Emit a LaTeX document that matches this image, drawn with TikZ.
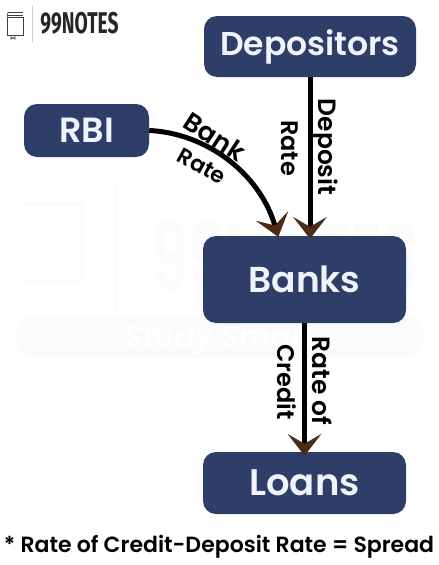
\documentclass[tikz,border=0pt]{standalone}
\usepackage{fontspec}
\setmainfont{Poppins}[BoldFont={Poppins SemiBold}]
\newfontfamily\logofont{Fira Sans}
\usetikzlibrary{arrows.meta}
\definecolor{boxblue}{HTML}{2F3E69}
\definecolor{tipbrown}{HTML}{4A2C17}
\definecolor{boxtext}{HTML}{F0F3FA}
\definecolor{faint}{HTML}{FBFBFB}
\tikzset{
  x=1pt,y=-1pt,
  fbox/.style={fill=boxblue,rounded corners=13pt,text=boxtext,inner sep=0pt,anchor=center},
  conn/.style={line width=5pt,black,-{Stealth[length=22pt,width=34pt,inset=10pt,color=tipbrown,line width=0pt]}},
  lab/.style={inner sep=0pt,text=black},
  wm/.style={draw=faint,line width=1.5pt}
}
\newcommand{\fsz}[1]{\bfseries\fontsize{#1}{#1}\selectfont}
\newcommand{\boxlabel}[1]{\raisebox{-2pt}{#1}}
\begin{document}
\begin{tikzpicture}
\useasboundingbox (0,0) rectangle (439,565);
% watermark
\draw[wm] (24,204) rectangle (82,282);
\draw[wm] (32,203) -- (82,203);
\draw[wm] (116,185) -- (116,312);
\node[font=\fsz{96},text=faint,inner sep=0pt,xscale=.62] (wmtext) at (285,256) {99NOTES};
\fill[faint,rounded corners=18pt] (16,316) rectangle (423,358);
\node[font=\itshape\fsz{30},text=white,inner sep=0pt] (wmsub) at (220,340) {Study Smart};
% logo
\draw[black!75,line width=.8pt] (7,17) rectangle (23,35);
\draw[black!75,line width=.8pt] (8,12.5) -- (23,12.5) (8,15) -- (23,15);
\draw[black!75,line width=.8pt] (8,12.5) -- (7,17);
\draw[black!75,line width=.8pt] (11,35) -- (11,39) -- (13,37.5) -- (15,39) -- (15,35);
\draw[black!20,line width=1pt] (32,6) -- (32,42);
\node[font=\logofont\bfseries\fontsize{30}{30}\selectfont,text=black!85,inner sep=0pt,xscale=.64] (logo) at (79.5,23) {99NOTES};
% boxes
\node[fbox,minimum width=212pt,minimum height=61pt,font=\fsz{33}] (dep) at (310,46.5) {\raisebox{-3pt}{Depositors}};
\node[fbox,minimum width=125pt,minimum height=53pt,font=\fsz{35}] (rbi) at (86.5,130.5) {\boxlabel{RBI}};
\node[fbox,minimum width=203pt,minimum height=87pt,font=\fsz{36}] (banks) at (304.5,279.5) {\boxlabel{Banks}};
\node[fbox,minimum width=203pt,minimum height=62pt,font=\fsz{37}] (loans) at (304.5,483) {\boxlabel{Loans}};
% connectors
\draw[conn,shorten >=-3pt] (dep.south) -- (dep.south |- banks.north);
\draw[conn,shorten >=-1pt] (rbi.east) .. controls (205,133) and (259,172) .. (278,236);
\draw[conn,shorten >=-4pt] (banks.south) -- (loans.north);
% labels
\node[lab,rotate=-33,font=\fsz{26}] (bank) at (215,137) {Bank};
\node[lab,rotate=-29,font=\fsz{22}] (rate1) at (202,166) {Rate};
\node[lab,rotate=-90,font=\fsz{25}] (deposit) at (325,147) {Deposit};
\node[lab,rotate=-90,font=\fsz{24}] (rate2) at (290,148) {Rate};
\node[lab,rotate=-90,font=\fsz{25}] (rateof) at (322,381) {Rate of};
\node[lab,rotate=-90,font=\fsz{24}] (credit) at (287,382) {Credit};
\node[font=\fsz{22},inner sep=0pt,text=black] (note) at (219,547) {* Rate of Credit-Deposit Rate = Spread};
\end{tikzpicture}
\end{document}
